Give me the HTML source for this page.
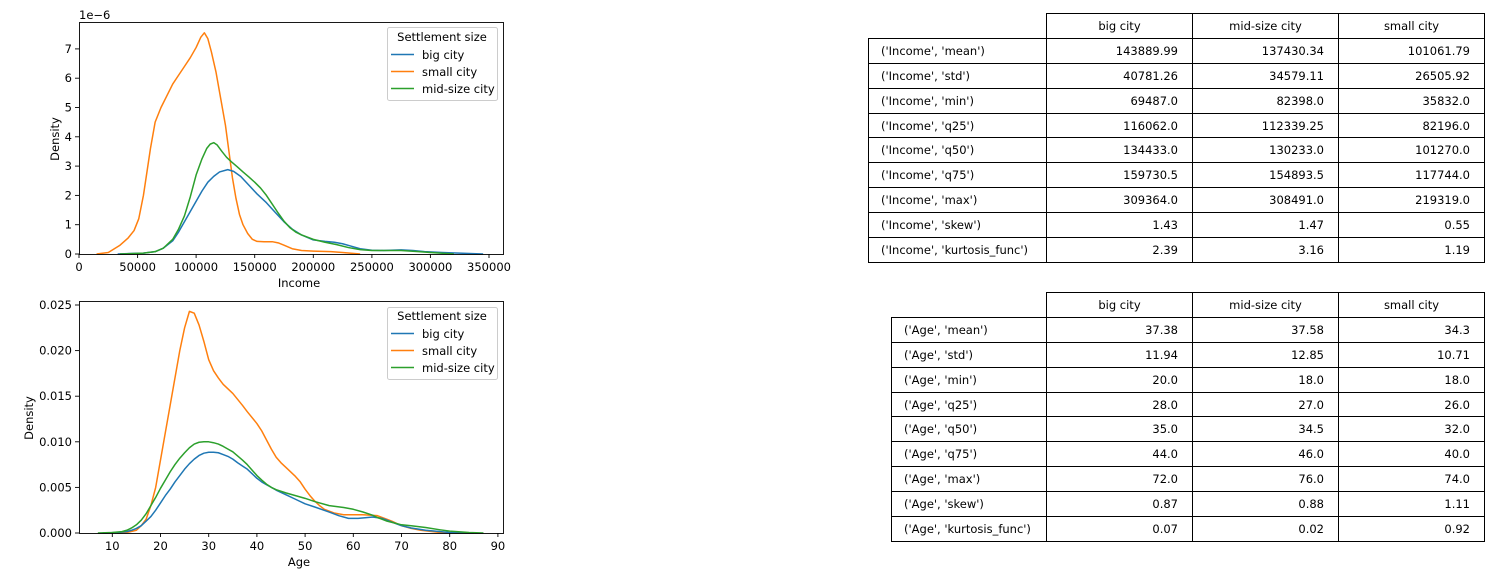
<!DOCTYPE html>
<html><head><meta charset="utf-8"><style>
body{margin:0;background:#fff;width:1500px;height:577px;overflow:hidden;position:relative;font-family:"DejaVu Sans","Liberation Sans",sans-serif}
svg{position:absolute;left:0;top:0}
table{position:absolute;border-collapse:collapse;font-size:11.5px;color:#000;table-layout:fixed}
td{border:1px solid #000;height:24.9px;padding:0 14px;box-sizing:border-box;white-space:nowrap;overflow:hidden}
td.n{text-align:right}
td.h{text-align:center;padding:0}
td.e{border:none}
td.l{padding:0 8px 0 12px}
</style></head><body>
<svg width="1500" height="577" font-family="DejaVu Sans, Liberation Sans, sans-serif" font-size="11.5">
<!-- TOP AXES -->
<g>
<g transform="translate(79,254) scale(1.1714,-29.3)" fill="none" stroke-width="1.5" stroke-linejoin="round">
<polyline vector-effect="non-scaling-stroke" stroke="#ff7f0e" points="15,0 25,0.05 35,0.3 42,0.55 47,0.8 51,1.2 55,2.0 58,2.8 61,3.6 65,4.5 70,5.0 75,5.4 80,5.8 85,6.1 90,6.4 95,6.7 100,7.05 104,7.4 107,7.55 110,7.35 113,6.9 117,6.2 121,5.3 125,4.4 128,3.5 131,2.6 134,1.9 137,1.35 140,1.0 144,0.7 148,0.5 152,0.43 158,0.42 165,0.42 170,0.38 175,0.3 182,0.18 190,0.12 200,0.1 215,0.08 225,0.05 240,0"/>
<polyline vector-effect="non-scaling-stroke" stroke="#1f77b4" points="33,0 55,0.03 65,0.08 72,0.2 80,0.45 85,0.75 90,1.1 95,1.45 100,1.8 105,2.15 110,2.45 115,2.65 120,2.8 127,2.88 132,2.82 138,2.65 145,2.35 152,2.05 160,1.75 168,1.4 175,1.1 182,0.85 190,0.65 200,0.48 210,0.43 218,0.4 225,0.35 232,0.27 240,0.18 250,0.13 260,0.12 275,0.14 285,0.12 295,0.08 310,0.05 345,0"/>
<polyline vector-effect="non-scaling-stroke" stroke="#2ca02c" points="35,0 55,0.03 65,0.08 72,0.2 80,0.5 85,0.85 90,1.3 95,1.95 100,2.7 105,3.25 109,3.6 112,3.75 115,3.8 118,3.72 122,3.5 126,3.3 130,3.15 135,2.98 140,2.8 145,2.63 150,2.45 155,2.25 160,2.0 165,1.7 170,1.4 175,1.12 180,0.9 185,0.75 190,0.65 200,0.5 210,0.4 220,0.32 230,0.22 240,0.15 250,0.12 275,0.12 290,0.08 300,0.05 320,0"/>
</g>
<rect x="79.5" y="22.5" width="424" height="232" fill="none" stroke="#000" stroke-width="0.9"/>
<g stroke="#000" stroke-width="0.9">
<line x1="79" y1="254" x2="79" y2="258"/><line x1="137.6" y1="254" x2="137.6" y2="258"/><line x1="196.1" y1="254" x2="196.1" y2="258"/><line x1="254.7" y1="254" x2="254.7" y2="258"/><line x1="313.3" y1="254" x2="313.3" y2="258"/><line x1="371.9" y1="254" x2="371.9" y2="258"/><line x1="430.4" y1="254" x2="430.4" y2="258"/><line x1="489" y1="254" x2="489" y2="258"/>
<line x1="75" y1="254" x2="79" y2="254"/><line x1="75" y1="224.7" x2="79" y2="224.7"/><line x1="75" y1="195.4" x2="79" y2="195.4"/><line x1="75" y1="166.1" x2="79" y2="166.1"/><line x1="75" y1="136.8" x2="79" y2="136.8"/><line x1="75" y1="107.5" x2="79" y2="107.5"/><line x1="75" y1="78.2" x2="79" y2="78.2"/><line x1="75" y1="48.9" x2="79" y2="48.9"/>
</g>
<g text-anchor="middle"><text x="79" y="271">0</text><text x="137.6" y="271">50000</text><text x="196.1" y="271">100000</text><text x="254.7" y="271">150000</text><text x="313.3" y="271">200000</text><text x="371.9" y="271">250000</text><text x="430.4" y="271">300000</text><text x="489" y="271">350000</text></g>
<g text-anchor="end"><text x="72" y="258">0</text><text x="72" y="228.7">1</text><text x="72" y="199.4">2</text><text x="72" y="170.1">3</text><text x="72" y="140.8">4</text><text x="72" y="111.5">5</text><text x="72" y="82.2">6</text><text x="72" y="52.9">7</text></g>
<text x="79" y="19">1e−6</text>
<text x="299" y="287" text-anchor="middle">Income</text>
<text transform="translate(59,139) rotate(-90)" text-anchor="middle">Density</text>
<rect x="387.5" y="27.5" width="110" height="73" rx="2" fill="#fff" fill-opacity="0.8" stroke="#ccc"/>
<text x="442" y="41" text-anchor="middle">Settlement size</text>
<line x1="391" y1="54.5" x2="414" y2="54.5" stroke="#1f77b4" stroke-width="1.5"/><text x="422" y="59">big city</text>
<line x1="391" y1="71.5" x2="414" y2="71.5" stroke="#ff7f0e" stroke-width="1.5"/><text x="422" y="76">small city</text>
<line x1="391" y1="88.5" x2="414" y2="88.5" stroke="#2ca02c" stroke-width="1.5"/><text x="422" y="93">mid-size city</text>
</g>
<!-- BOTTOM AXES -->
<g>
<g transform="translate(64.1,533) scale(4.82,-9.12)" fill="none" stroke-width="1.5" stroke-linejoin="round">
<polyline vector-effect="non-scaling-stroke" stroke="#ff7f0e" points="11,0 13,0.05 15,0.3 16,0.8 17,1.5 18,3 19,5 20,8 21,11 22,14 23,17 24,20 25,22.5 26,24.3 27,24.1 28,22.8 29,21 30,19 31,17.8 32,17 33,16.3 35,15.3 37,14 38,13.3 40,12 41,11.2 42,10.2 43,9.2 44,8.3 45,7.7 46,7.2 48,6.2 49,5.6 50,4.8 51,4.1 52,3.5 53,3.0 54,2.6 56,2.2 58,2.0 62,2.0 65,1.9 67,1.5 68,1.3 70,0.8 72,0.5 74,0.3 78,0.05 82,0"/>
<polyline vector-effect="non-scaling-stroke" stroke="#1f77b4" points="8,0 11,0.05 13,0.15 14,0.3 15,0.5 16,0.8 17,1.3 18,1.8 19,2.5 20,3.3 21,4.1 22,4.8 23,5.6 24,6.3 25,7 26,7.6 27,8.1 28,8.5 29,8.75 30,8.85 31,8.85 32,8.8 33,8.6 34,8.4 35,8.1 36,7.7 37,7.35 38,7 39,6.5 40,6 41,5.6 42,5.3 43,5 44,4.7 46,4.2 48,3.7 50,3.2 52,2.85 55,2.3 57,1.9 59,1.6 61,1.6 63,1.7 64,1.75 66,1.6 67,1.4 69,1.0 70,0.8 72,0.55 75,0.3 80,0.05 85,0"/>
<polyline vector-effect="non-scaling-stroke" stroke="#2ca02c" points="7,0 10,0.05 12,0.15 13,0.3 14,0.55 15,0.9 16,1.4 17,2.1 18,3 19,3.9 20,4.9 21,5.8 22,6.7 23,7.5 24,8.2 25,8.8 26,9.35 27,9.75 28,9.95 29,10 30,10 31,9.9 32,9.75 33,9.5 34,9.2 35,8.9 36,8.45 37,8 38,7.5 39,6.9 40,6.3 41,5.8 42,5.35 43,5 44,4.75 46,4.4 48,4.1 50,3.8 52,3.45 55,3.0 58,2.8 60,2.6 62,2.3 64,1.95 65,1.7 67,1.3 70,0.9 72,0.8 75,0.6 78,0.35 80,0.2 84,0.05 87,0"/>
</g>
<rect x="79.5" y="301.5" width="424" height="232" fill="none" stroke="#000" stroke-width="0.9"/>
<g stroke="#000" stroke-width="0.9">
<line x1="112.3" y1="533" x2="112.3" y2="537"/><line x1="160.5" y1="533" x2="160.5" y2="537"/><line x1="208.7" y1="533" x2="208.7" y2="537"/><line x1="256.9" y1="533" x2="256.9" y2="537"/><line x1="305.1" y1="533" x2="305.1" y2="537"/><line x1="353.3" y1="533" x2="353.3" y2="537"/><line x1="401.5" y1="533" x2="401.5" y2="537"/><line x1="449.7" y1="533" x2="449.7" y2="537"/><line x1="497.9" y1="533" x2="497.9" y2="537"/>
<line x1="75" y1="533" x2="79" y2="533"/><line x1="75" y1="487.4" x2="79" y2="487.4"/><line x1="75" y1="441.8" x2="79" y2="441.8"/><line x1="75" y1="396.2" x2="79" y2="396.2"/><line x1="75" y1="350.6" x2="79" y2="350.6"/><line x1="75" y1="305" x2="79" y2="305"/>
</g>
<g text-anchor="middle"><text x="112.3" y="550">10</text><text x="160.5" y="550">20</text><text x="208.7" y="550">30</text><text x="256.9" y="550">40</text><text x="305.1" y="550">50</text><text x="353.3" y="550">60</text><text x="401.5" y="550">70</text><text x="449.7" y="550">80</text><text x="497.9" y="550">90</text></g>
<g text-anchor="end"><text x="72" y="537">0.000</text><text x="72" y="491.4">0.005</text><text x="72" y="445.8">0.010</text><text x="72" y="400.2">0.015</text><text x="72" y="354.6">0.020</text><text x="72" y="309">0.025</text></g>
<text x="299" y="566" text-anchor="middle">Age</text>
<text transform="translate(33,418) rotate(-90)" text-anchor="middle">Density</text>
<rect x="387.5" y="307.5" width="110" height="72" rx="2" fill="#fff" fill-opacity="0.8" stroke="#ccc"/>
<text x="442" y="320" text-anchor="middle">Settlement size</text>
<line x1="391" y1="333.5" x2="414" y2="333.5" stroke="#1f77b4" stroke-width="1.5"/><text x="422" y="338">big city</text>
<line x1="391" y1="350.5" x2="414" y2="350.5" stroke="#ff7f0e" stroke-width="1.5"/><text x="422" y="355">small city</text>
<line x1="391" y1="367.5" x2="414" y2="367.5" stroke="#2ca02c" stroke-width="1.5"/><text x="422" y="372">mid-size city</text>
</g>
</svg>

<table style="left:868px;top:13px;width:616px">
<colgroup><col style="width:178px"><col style="width:146px"><col style="width:146px"><col style="width:146px"></colgroup>
<tr><td class="e"></td><td class="h">big city</td><td class="h">mid-size city</td><td class="h">small city</td></tr>
<tr><td class="l">('Income', 'mean')</td><td class="n">143889.99</td><td class="n">137430.34</td><td class="n">101061.79</td></tr>
<tr><td class="l">('Income', 'std')</td><td class="n">40781.26</td><td class="n">34579.11</td><td class="n">26505.92</td></tr>
<tr><td class="l">('Income', 'min')</td><td class="n">69487.0</td><td class="n">82398.0</td><td class="n">35832.0</td></tr>
<tr><td class="l">('Income', 'q25')</td><td class="n">116062.0</td><td class="n">112339.25</td><td class="n">82196.0</td></tr>
<tr><td class="l">('Income', 'q50')</td><td class="n">134433.0</td><td class="n">130233.0</td><td class="n">101270.0</td></tr>
<tr><td class="l">('Income', 'q75')</td><td class="n">159730.5</td><td class="n">154893.5</td><td class="n">117744.0</td></tr>
<tr><td class="l">('Income', 'max')</td><td class="n">309364.0</td><td class="n">308491.0</td><td class="n">219319.0</td></tr>
<tr><td class="l">('Income', 'skew')</td><td class="n">1.43</td><td class="n">1.47</td><td class="n">0.55</td></tr>
<tr><td class="l">('Income', 'kurtosis_func')</td><td class="n">2.39</td><td class="n">3.16</td><td class="n">1.19</td></tr>
</table>

<table style="left:891px;top:292px;width:593px">
<colgroup><col style="width:155px"><col style="width:146px"><col style="width:146px"><col style="width:146px"></colgroup>
<tr><td class="e"></td><td class="h">big city</td><td class="h">mid-size city</td><td class="h">small city</td></tr>
<tr><td class="l">('Age', 'mean')</td><td class="n">37.38</td><td class="n">37.58</td><td class="n">34.3</td></tr>
<tr><td class="l">('Age', 'std')</td><td class="n">11.94</td><td class="n">12.85</td><td class="n">10.71</td></tr>
<tr><td class="l">('Age', 'min')</td><td class="n">20.0</td><td class="n">18.0</td><td class="n">18.0</td></tr>
<tr><td class="l">('Age', 'q25')</td><td class="n">28.0</td><td class="n">27.0</td><td class="n">26.0</td></tr>
<tr><td class="l">('Age', 'q50')</td><td class="n">35.0</td><td class="n">34.5</td><td class="n">32.0</td></tr>
<tr><td class="l">('Age', 'q75')</td><td class="n">44.0</td><td class="n">46.0</td><td class="n">40.0</td></tr>
<tr><td class="l">('Age', 'max')</td><td class="n">72.0</td><td class="n">76.0</td><td class="n">74.0</td></tr>
<tr><td class="l">('Age', 'skew')</td><td class="n">0.87</td><td class="n">0.88</td><td class="n">1.11</td></tr>
<tr><td class="l">('Age', 'kurtosis_func')</td><td class="n">0.07</td><td class="n">0.02</td><td class="n">0.92</td></tr>
</table>
</body></html>
